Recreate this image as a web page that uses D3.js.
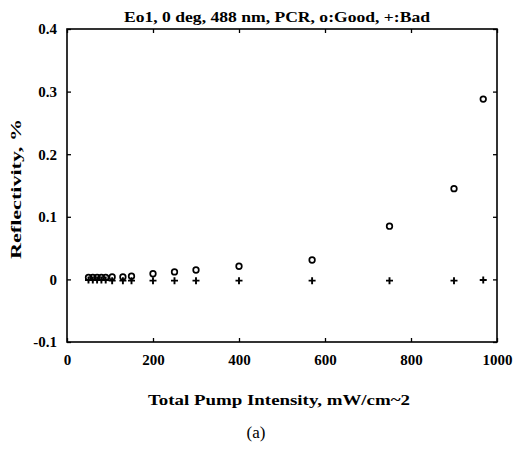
<!DOCTYPE html>
<html><head><meta charset="utf-8">
<script src="https://cdn.jsdelivr.net/npm/d3@7"></script>
<style>body{margin:0;background:#fff}svg{display:block}</style>
</head><body>
<script>
const intensity = [50, 60, 70, 80, 90, 105, 130, 150, 200, 250, 300, 400, 570, 750, 900, 968];
const good = [0.003, 0.003, 0.003, 0.003, 0.003, 0.004, 0.004, 0.005, 0.009, 0.012, 0.015, 0.021, 0.031, 0.085, 0.145, 0.288];
const bad = [-0.001, -0.001, -0.001, -0.001, -0.001, -0.002, -0.002, -0.002, -0.002, -0.002, -0.002, -0.002, -0.002, -0.002, -0.002, -0.001];
const xTicks = [0, 200, 400, 600, 800, 1000];
const yTicks = [-0.1, 0, 0.1, 0.2, 0.3, 0.4];
const yTickLabels = ["-0.1", "0", "0.1", "0.2", "0.3", "0.4"];

const W = 513, H = 451;
const m = {l: 67, r: 497, t: 29, b: 342};
const svg = d3.select("body").append("svg").attr("width", W).attr("height", H);
const x = d3.scaleLinear().domain([0, 1000]).range([m.l, m.r]);
const y = d3.scaleLinear().domain([-0.1, 0.4]).range([m.b, m.t]);
const font = "'Liberation Serif', 'DejaVu Serif', serif";

// frame
svg.append("rect").attr("x", m.l).attr("y", m.t).attr("width", m.r - m.l).attr("height", m.b - m.t)
  .attr("fill", "none").attr("stroke", "#000").attr("stroke-width", 1.6);

const tl = 4;
svg.append("g").attr("transform", `translate(0,${m.b})`)
  .call(d3.axisBottom(x).tickValues(xTicks).tickSize(-tl).tickPadding(12).tickFormat(d3.format("d")))
  .call(g => g.select(".domain").remove());
svg.append("g").attr("transform", `translate(0,${m.t})`)
  .call(d3.axisTop(x).tickValues(xTicks).tickSize(-tl).tickFormat(""))
  .call(g => g.select(".domain").remove());
svg.append("g").attr("transform", `translate(${m.l},0)`)
  .call(d3.axisLeft(y).tickValues(yTicks).tickSize(-tl).tickPadding(10).tickFormat((d, i) => yTickLabels[i]))
  .call(g => g.select(".domain").remove());
svg.append("g").attr("transform", `translate(${m.r},0)`)
  .call(d3.axisRight(y).tickValues(yTicks).tickSize(-tl).tickFormat(""))
  .call(g => g.select(".domain").remove());

svg.selectAll(".tick line").attr("stroke", "#000").attr("stroke-width", 1.3);
svg.selectAll(".tick text").attr("font-family", font).attr("font-weight", "bold")
  .attr("font-size", 15).attr("fill", "#000");

// good (o)
svg.append("g").selectAll("circle").data(intensity).join("circle")
  .attr("cx", d => x(d)).attr("cy", (d, i) => y(good[i])).attr("r", 2.8)
  .attr("fill", "none").attr("stroke", "#000").attr("stroke-width", 1.7);
// bad (+)
const s = 3.5;
svg.append("g").selectAll("path").data(intensity).join("path")
  .attr("d", (d, i) => {
    const cx = x(d), cy = y(bad[i]);
    return `M${cx - s},${cy}H${cx + s}M${cx},${cy - s}V${cy + s}`;
  })
  .attr("stroke", "#000").attr("stroke-width", 1.9).attr("fill", "none");

svg.append("text").attr("x", 277).attr("y", 22).attr("text-anchor", "middle")
  .attr("font-family", font).attr("font-weight", "bold").attr("font-size", 15.5)
  .attr("textLength", 306).attr("lengthAdjust", "spacingAndGlyphs")
  .text("Eo1, 0 deg, 488 nm, PCR, o:Good, +:Bad");
svg.append("text").attr("x", 279).attr("y", 405).attr("text-anchor", "middle")
  .attr("font-family", font).attr("font-weight", "bold").attr("font-size", 15.5)
  .attr("textLength", 262).attr("lengthAdjust", "spacingAndGlyphs")
  .text("Total Pump Intensity, mW/cm~2");
svg.append("text").attr("transform", "translate(21,189) rotate(-90)").attr("text-anchor", "middle")
  .attr("font-family", font).attr("font-weight", "bold").attr("font-size", 15.5)
  .attr("textLength", 140).attr("lengthAdjust", "spacingAndGlyphs")
  .text("Reflectivity, %");
svg.append("text").attr("x", 256).attr("y", 438).attr("text-anchor", "middle")
  .attr("font-family", font).attr("font-size", 17).text("(a)");
</script>
</body></html>
